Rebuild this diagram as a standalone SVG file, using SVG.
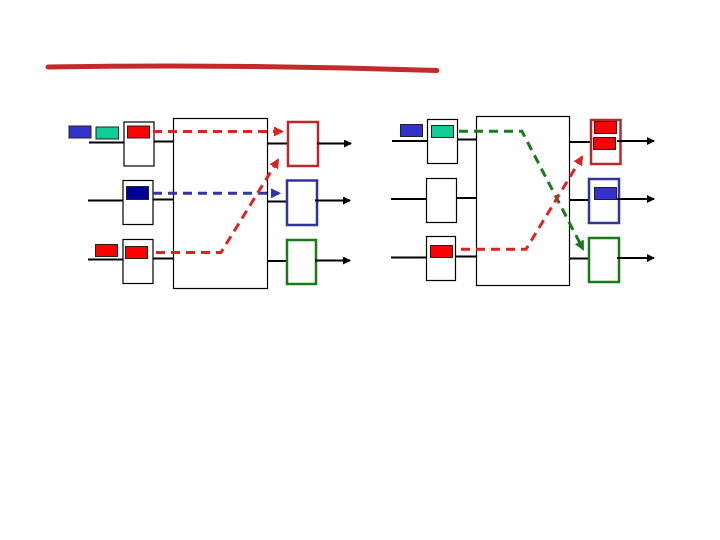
<svg xmlns="http://www.w3.org/2000/svg" width="720" height="540" viewBox="0 0 720 540">
<style>
.line{stroke:#000;stroke-width:2;fill:none}
.box{fill:#fff;stroke:#000;stroke-width:1.2}
.pkt{stroke:#222;stroke-width:1}
.red{fill:#ff0000}
.blue{fill:#3333cc}
.teal{fill:#11cc99}
.navy{fill:#000099}
.outR{fill:#fff;stroke:#b82a2a;stroke-width:2.5}
.outB{fill:#fff;stroke:#333399;stroke-width:2.5}
.outG{fill:#fff;stroke:#1a7a1a;stroke-width:2.5}
.arr{stroke:#000;stroke-width:2;fill:none;marker-end:url(#ah)}
.dR{stroke:#dd2222;stroke-width:3;fill:none;stroke-dasharray:9 6}
.dB{stroke:#3333aa;stroke-width:3;fill:none;stroke-dasharray:9 6}
.dG{stroke:#1a7a1a;stroke-width:3;fill:none;stroke-dasharray:9 6}
</style>
<defs>
<marker id="ah" markerWidth="8" markerHeight="8" refX="7" refY="4" orient="auto" markerUnits="userSpaceOnUse"><path d="M0,0 L8,4 L0,8 z" fill="#000"/></marker>
<marker id="ahR" markerWidth="10" markerHeight="10" refX="8" refY="5" orient="auto" markerUnits="userSpaceOnUse"><path d="M0,0 L10,5 L0,10 z" fill="#dd2222"/></marker>
<marker id="ahB" markerWidth="10" markerHeight="10" refX="8" refY="5" orient="auto" markerUnits="userSpaceOnUse"><path d="M0,0 L10,5 L0,10 z" fill="#3333aa"/></marker>
<marker id="ahG" markerWidth="10" markerHeight="10" refX="8" refY="5" orient="auto" markerUnits="userSpaceOnUse"><path d="M0,0 L10,5 L0,10 z" fill="#1a7a1a"/></marker>
</defs>
<rect width="720" height="540" fill="#fff"/>
<path d="M48,67 Q240,64 437,70.5" stroke="#c42a2a" stroke-width="5" stroke-linecap="round" fill="none"/>

<g id="left-panel">
<g id="L-lines">
<line class="line" x1="89" y1="142.5" x2="124" y2="142.5"/>
<line class="line" x1="154" y1="141.5" x2="173" y2="141.5"/>
<line class="line" x1="88" y1="200.5" x2="123" y2="200.5"/>
<line class="line" x1="153" y1="199.5" x2="173" y2="199.5"/>
<line class="line" x1="88" y1="259.5" x2="123" y2="259.5"/>
<line class="line" x1="153" y1="258.5" x2="173" y2="258.5"/>
<line class="line" x1="267" y1="143.5" x2="288" y2="143.5"/>
<line class="line" x1="267" y1="201.5" x2="287" y2="201.5"/>
<line class="line" x1="267" y1="261" x2="287" y2="261"/>
</g>
<g id="L-in1"><rect class="box" x="124" y="122" width="30" height="44"/><rect class="pkt red" x="127.5" y="126" width="22" height="12"/></g>
<g id="L-in2"><rect class="box" x="123" y="180.5" width="30" height="44"/><rect class="pkt navy" x="126.5" y="186.5" width="22" height="13"/></g>
<g id="L-in3"><rect class="box" x="123" y="239.5" width="30" height="44"/><rect class="pkt red" x="125.5" y="246.5" width="22" height="12"/></g>
<g id="L-q"><rect class="pkt blue" x="69" y="126" width="22" height="12"/><rect class="pkt teal" x="96" y="127" width="22.5" height="12"/><rect class="pkt red" x="95.5" y="244.5" width="22" height="12"/></g>
<g id="L-switch"><rect class="box" x="173.5" y="118.5" width="94" height="170"/></g>
<g id="L-out1"><rect class="outR" x="288" y="122" width="30" height="44"/></g>
<g id="L-out2"><rect class="outB" x="287" y="180.5" width="30" height="44.5"/></g>
<g id="L-out3"><rect class="outG" x="287" y="240" width="29" height="44"/></g>
<g id="L-connectors">
<line class="arr" x1="317" y1="143.5" x2="351" y2="143.5"/>
<line class="arr" x1="315" y1="200.5" x2="350" y2="200.5"/>
<line class="arr" x1="315" y1="260.5" x2="350" y2="260.5"/>
<path class="dR" d="M153,131.5 H282" marker-end="url(#ahR)"/>
<path class="dB" d="M153,193.3 H279" marker-end="url(#ahB)"/>
<path class="dR" d="M156,252.5 H221 L278,160" marker-end="url(#ahR)"/>
</g>
</g>

<g id="right-panel">
<g id="R-lines">
<line class="line" x1="392" y1="141" x2="427" y2="141"/>
<line class="line" x1="457" y1="139.5" x2="476" y2="139.5"/>
<line class="line" x1="391" y1="199" x2="426" y2="199"/>
<line class="line" x1="456" y1="198" x2="476" y2="198"/>
<line class="line" x1="391" y1="257.5" x2="426" y2="257.5"/>
<line class="line" x1="456" y1="256.5" x2="476" y2="256.5"/>
<line class="line" x1="569" y1="142" x2="591" y2="142"/>
<line class="line" x1="569" y1="200" x2="589" y2="200"/>
<line class="line" x1="569" y1="258.5" x2="589" y2="258.5"/>
</g>
<g id="R-in1"><rect class="box" x="427.5" y="119.5" width="30" height="44"/><rect class="pkt teal" x="431.5" y="125.5" width="22" height="12"/></g>
<g id="R-in2"><rect class="box" x="426.5" y="178.5" width="30" height="44"/></g>
<g id="R-in3"><rect class="box" x="426.5" y="236.5" width="29" height="44"/><rect class="pkt red" x="430.5" y="245.5" width="22" height="12"/></g>
<g id="R-q"><rect class="pkt blue" x="400.5" y="124.5" width="22" height="12"/></g>
<g id="R-switch"><rect class="box" x="476.5" y="116.5" width="93" height="169"/></g>
<g id="R-out1"><rect class="outR" x="591" y="120" width="29.5" height="44"/><rect class="pkt red" x="594.5" y="121.5" width="22" height="12"/><rect class="pkt red" x="593.5" y="137.5" width="22" height="12"/></g>
<g id="R-out2"><rect class="outB" x="589" y="179" width="30" height="44"/><rect class="pkt blue" x="594.5" y="187.5" width="22" height="12"/></g>
<g id="R-out3"><rect class="outG" x="589" y="238" width="30" height="44"/></g>
<g id="R-connectors">
<line class="arr" x1="617" y1="141" x2="654" y2="141"/>
<line class="arr" x1="617" y1="199" x2="654" y2="199"/>
<line class="arr" x1="617" y1="258" x2="654" y2="258"/>
<path class="dG" d="M459,131.3 H522 L583,249" marker-end="url(#ahG)"/>
<path class="dR" d="M461,249.3 H526 L582,157" marker-end="url(#ahR)"/>
</g>
</g>
</svg>
